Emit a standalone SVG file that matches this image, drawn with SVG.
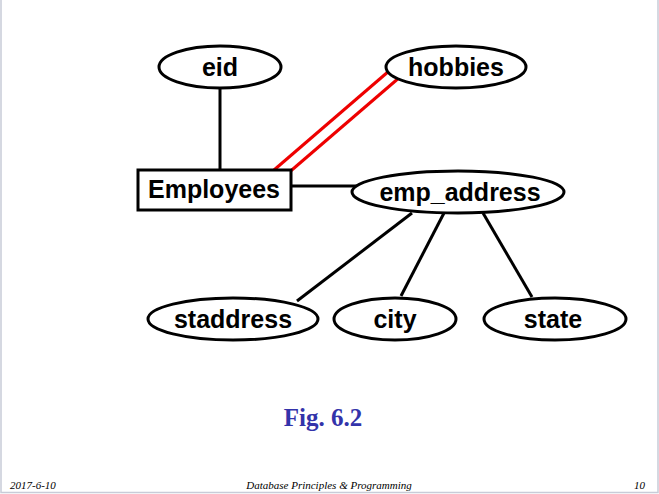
<svg xmlns="http://www.w3.org/2000/svg" width="659" height="494" viewBox="0 0 659 494">
<style>
.n{fill:#fff;stroke:#000;stroke-width:3}
.t{font-family:"Liberation Sans",Arial,sans-serif;font-weight:bold;font-size:25px;fill:#000;text-anchor:middle}
.e{stroke:#000;stroke-width:3;fill:none}
.r{stroke:#e00;stroke-width:3;fill:none}
.f{font-family:"Liberation Serif","Times New Roman",serif;font-style:italic;font-size:11px;fill:#000}
</style>
<rect x="0" y="0" width="659" height="494" fill="#fff"/>
<path d="M1 0V492.5H658V0" fill="none" stroke="#c8ccd8" stroke-width="1.5"/>
<g id="connectors">
<line class="e" x1="220" y1="88" x2="220" y2="171"/>
<line class="e" x1="291" y1="186" x2="357" y2="186"/>
<line class="r" x1="274" y1="170" x2="389" y2="71"/>
<line class="r" x1="286" y1="175" x2="400" y2="77"/>
<line class="e" x1="412" y1="213" x2="297" y2="301"/>
<line class="e" x1="444" y1="213" x2="401" y2="296"/>
<line class="e" x1="483" y1="213" x2="532" y2="297"/>
</g>
<g id="eid"><ellipse class="n" cx="220" cy="67" rx="61" ry="21"/><text class="t" x="220" y="76">eid</text></g>
<g id="hobbies"><ellipse class="n" cx="456" cy="67" rx="70" ry="21"/><text class="t" x="456" y="76">hobbies</text></g>
<g id="employees"><rect class="n" x="138" y="170" width="153" height="40"/><text class="t" x="214" y="198">Employees</text></g>
<g id="emp_address"><ellipse class="n" cx="458" cy="192" rx="106" ry="21"/><text class="t" x="460" y="201">emp_address</text></g>
<g id="staddress"><ellipse class="n" cx="233" cy="319" rx="85" ry="21"/><text class="t" x="233" y="328">staddress</text></g>
<g id="city"><ellipse class="n" cx="395" cy="319" rx="61" ry="21"/><text class="t" x="395" y="328">city</text></g>
<g id="state"><ellipse class="n" cx="555" cy="319" rx="71" ry="21"/><text class="t" x="553" y="328">state</text></g>
<text x="323" y="426" font-family="'Liberation Serif','Times New Roman',serif" font-weight="bold" font-size="25" fill="#3333aa" text-anchor="middle">Fig. 6.2</text>
<text class="f" x="10" y="489">2017-6-10</text>
<text class="f" x="329" y="489" text-anchor="middle">Database Principles &amp; Programming</text>
<text class="f" x="645" y="489" text-anchor="end">10</text>
</svg>
